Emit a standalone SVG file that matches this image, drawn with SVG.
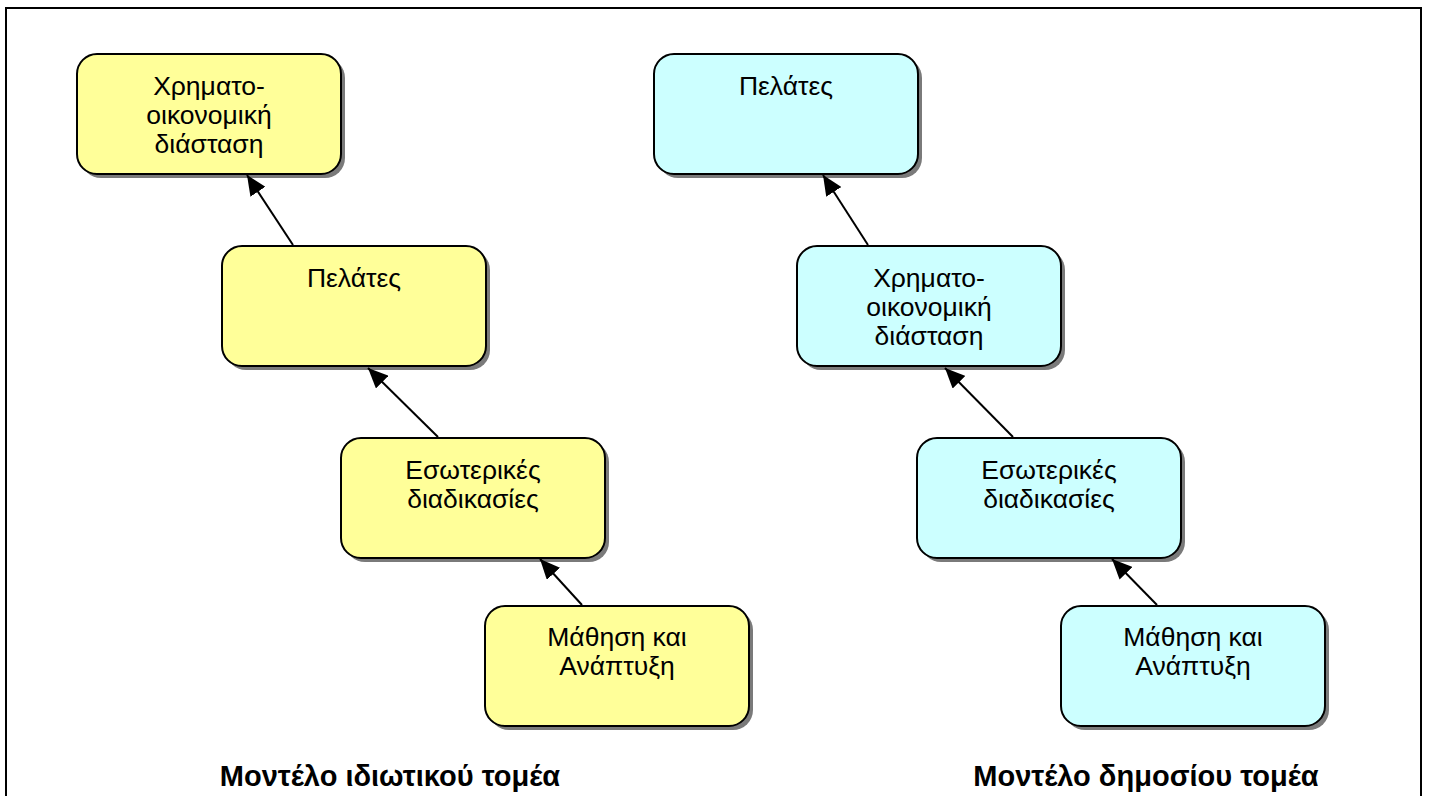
<svg xmlns="http://www.w3.org/2000/svg" width="1432" height="796" viewBox="0 0 1432 796">
  <defs>
    <marker id="arrow" markerUnits="userSpaceOnUse" markerWidth="20" markerHeight="18" viewBox="0 0 20 18" refX="20" refY="9" orient="auto">
      <path d="M0,0 L20,9 L0,18 Z" fill="#000"/>
    </marker>
  </defs>
  <style>
    .shadow { fill: #7a7a7a; }
    .box { stroke: #000; stroke-width: 2; }
    .yellow { fill: #FFFF99; }
    .cyan { fill: #CCFFFF; }
    .label { font-family: "Liberation Sans", Arial, sans-serif; font-size: 26.5px; fill: #000; text-anchor: middle; }
    .title { font-family: "Liberation Sans", Arial, sans-serif; font-size: 29px; font-weight: bold; fill: #000; text-anchor: middle; }
    .conn line { stroke: #000; stroke-width: 2; marker-end: url(#arrow); }
  </style>

  <rect width="1432" height="796" fill="#fff"/>
  <!-- page frame (bottom edge runs below the visible area) -->
  <rect x="6" y="8" width="1415" height="820" fill="none" stroke="#000" stroke-width="2"/>

  <!-- private sector model -->
  <g id="p-finance">
    <rect class="shadow" x="81" y="58" width="264" height="120" rx="20"/>
    <rect class="box yellow" x="77" y="54" width="264" height="120" rx="20"/>
    <text class="label" x="209" y="95">Χρηματο-</text>
    <text class="label" x="209" y="124">οικονομική</text>
    <text class="label" x="209" y="153">διάσταση</text>
  </g>
  <g id="p-customers">
    <rect class="shadow" x="226" y="250" width="264" height="120" rx="20"/>
    <rect class="box yellow" x="222" y="246" width="264" height="120" rx="20"/>
    <text class="label" x="354" y="287">Πελάτες</text>
  </g>
  <g id="p-internal">
    <rect class="shadow" x="345" y="442" width="264" height="120" rx="20"/>
    <rect class="box yellow" x="341" y="438" width="264" height="120" rx="20"/>
    <text class="label" x="473" y="479">Εσωτερικές</text>
    <text class="label" x="473" y="508">διαδικασίες</text>
  </g>
  <g id="p-learning">
    <rect class="shadow" x="489" y="610" width="264" height="120" rx="20"/>
    <rect class="box yellow" x="485" y="606" width="264" height="120" rx="20"/>
    <text class="label" x="617" y="646">Μάθηση και</text>
    <text class="label" x="617" y="675">Ανάπτυξη</text>
  </g>

  <!-- public sector model -->
  <g id="g-customers">
    <rect class="shadow" x="658" y="58" width="264" height="120" rx="20"/>
    <rect class="box cyan" x="654" y="54" width="264" height="120" rx="20"/>
    <text class="label" x="786" y="95">Πελάτες</text>
  </g>
  <g id="g-finance">
    <rect class="shadow" x="801" y="250" width="264" height="120" rx="20"/>
    <rect class="box cyan" x="797" y="246" width="264" height="120" rx="20"/>
    <text class="label" x="929" y="287">Χρηματο-</text>
    <text class="label" x="929" y="316">οικονομική</text>
    <text class="label" x="929" y="345">διάσταση</text>
  </g>
  <g id="g-internal">
    <rect class="shadow" x="921" y="442" width="264" height="120" rx="20"/>
    <rect class="box cyan" x="917" y="438" width="264" height="120" rx="20"/>
    <text class="label" x="1049" y="479">Εσωτερικές</text>
    <text class="label" x="1049" y="508">διαδικασίες</text>
  </g>
  <g id="g-learning">
    <rect class="shadow" x="1065" y="610" width="264" height="120" rx="20"/>
    <rect class="box cyan" x="1061" y="606" width="264" height="120" rx="20"/>
    <text class="label" x="1193" y="646">Μάθηση και</text>
    <text class="label" x="1193" y="675">Ανάπτυξη</text>
  </g>

  <!-- connectors -->
  <g id="connectors" class="conn">
    <line x1="293" y1="245" x2="247" y2="175"/>
    <line x1="438" y1="437" x2="368" y2="368"/>
    <line x1="582" y1="605" x2="540" y2="559"/>
    <line x1="868" y1="245" x2="823" y2="175"/>
    <line x1="1013" y1="437" x2="945" y2="368"/>
    <line x1="1157" y1="605" x2="1112" y2="559"/>
  </g>

  <!-- captions -->
  <text class="title" x="390" y="786">Μοντέλο ιδιωτικού τομέα</text>
  <text class="title" x="1146" y="786">Μοντέλο δημοσίου τομέα</text>
</svg>
